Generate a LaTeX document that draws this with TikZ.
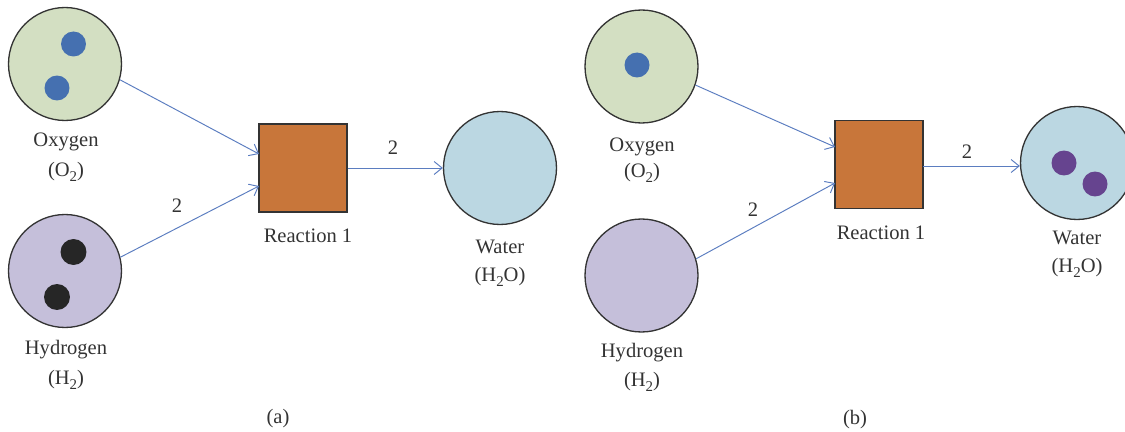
\documentclass[tikz,border=0pt]{standalone}
\usepackage{fontspec}
\setmainfont{Liberation Serif}
\usetikzlibrary{arrows.meta}
\definecolor{oxfill}{HTML}{D3DFC2}
\definecolor{hyfill}{HTML}{C5BFDA}
\definecolor{wafill}{HTML}{BBD7E2}
\definecolor{rxfill}{HTML}{C8763A}
\definecolor{bluedot}{HTML}{4570B0}
\definecolor{blackdot}{HTML}{262626}
\definecolor{purpdot}{HTML}{66448F}
\definecolor{arrowcol}{HTML}{5B7DC0}
\definecolor{edgecol}{HTML}{333333}
\definecolor{txtcol}{HTML}{333333}
\newcommand{\lowsub}[1]{\raisebox{-0.45ex}{\fontsize{8.5pt}{9pt}\selectfont #1}}
\tikzset{
  place/.style={circle, draw=edgecol, line width=0.75pt, minimum size=2.26cm, inner sep=0pt},
  rxbox/.style={rectangle, draw=edgecol, line width=0.75pt, fill=rxfill, minimum size=1.76cm, inner sep=0pt},
  token/.style={circle, minimum size=0.5cm, inner sep=0pt},
  lbl/.style={font=\fontsize{11.7pt}{14pt}\selectfont, text=txtcol, inner sep=0pt, align=center},
  flow/.style={draw=arrowcol, line width=0.55pt, -{Straight Barb[length=1.6mm, width=2.6mm, line width=0.55pt]}},
}
\begin{document}
\begin{tikzpicture}[x=0.02cm, y=-0.02cm]
\useasboundingbox (0,0) rectangle (1125,432);
% ---------- panel (a) ----------
\node[place, fill=oxfill] (oxa) at (65,64) {};
\node[token, fill=bluedot] (oxa1) at (73.5,44) {};
\node[token, fill=bluedot] (oxa2) at (57,88) {};
\node[lbl] (oxal) at (66,142) {Oxygen};
\node[lbl] (oxaf) at (66,172) {(O\lowsub{2})};
\node[place, fill=hyfill] (hya) at (65,271) {};
\node[token, fill=blackdot, minimum size=0.52cm] (hya1) at (73.5,252) {};
\node[token, fill=blackdot, minimum size=0.52cm] (hya2) at (57,297) {};
\node[lbl] (hyal) at (66,350) {Hydrogen};
\node[lbl] (hyaf) at (66,380) {(H\lowsub{2})};
\node[rxbox] (ra) at (303,168) {};
\node[lbl] (ral) at (308,236) {Reaction 1};
\node[place, fill=wafill] (wa) at (500,168) {};
\node[lbl] (wal) at (500,247) {Water};
\node[lbl] (waf) at (500,277) {(H\lowsub{2}O)};
\coordinate (ina1) at (259,154);
\coordinate (ina2) at (259,186);
\draw[flow] (oxa.-16) -- (ina1);
\draw[flow] (hya.14) -- (ina2);
\draw[flow] (ra.east) -- (wa.west);
\node[lbl] (na1) at (177,206) {2};
\node[lbl] (na2) at (393,148) {2};
\node[lbl] (capa) at (278,419) {(a)};
% ---------- panel (b) ----------
\node[place, fill=oxfill] (oxb) at (641.5,66.5) {};
\node[token, fill=bluedot] (oxb1) at (637,65) {};
\node[lbl] (oxbl) at (642,147) {Oxygen};
\node[lbl] (oxbf) at (642,173) {(O\lowsub{2})};
\node[place, fill=hyfill] (hyb) at (641.5,275.5) {};
\node[lbl] (hybl) at (642,353) {Hydrogen};
\node[lbl] (hybf) at (642,382) {(H\lowsub{2})};
\node[rxbox] (rb) at (879,164.5) {};
\node[lbl] (rbl) at (881,233) {Reaction 1};
\node[place, fill=wafill] (wb) at (1077,163) {};
\node[token, fill=purpdot] (wb1) at (1064,163) {};
\node[token, fill=purpdot] (wb2) at (1095,184) {};
\node[lbl] (wbl) at (1077,238) {Water};
\node[lbl] (wbf) at (1077,268) {(H\lowsub{2}O)};
\coordinate (inb1) at (835,147);
\coordinate (inb2) at (835,183);
\coordinate (outb) at (923,166);
\draw[flow] (oxb.-19) -- (inb1);
\draw[flow] (hyb.17.5) -- (inb2);
\draw[flow] (outb) -- (outb -| wb.west);
\node[lbl] (nb1) at (753,210) {2};
\node[lbl] (nb2) at (967,152) {2};
\node[lbl] (capb) at (855,420) {(b)};
\end{tikzpicture}
\end{document}
